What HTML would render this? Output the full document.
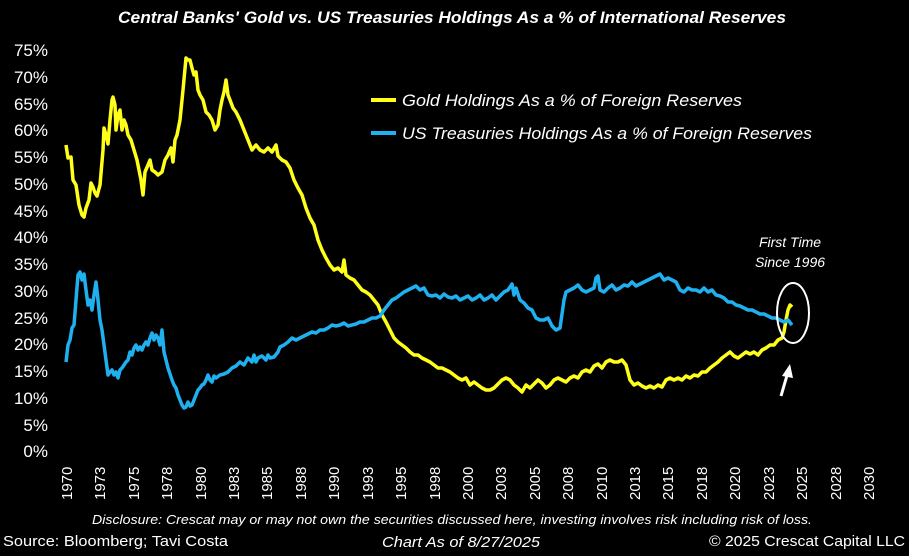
<!DOCTYPE html>
<html><head><meta charset="utf-8"><style>body{margin:0;background:#000}svg{display:block}</style></head><body>
<svg width="909" height="556" viewBox="0 0 909 556" xmlns="http://www.w3.org/2000/svg" font-family="Liberation Sans, sans-serif">
<rect width="909" height="556" fill="#000"/>
<text x="452" y="23" fill="#fff" font-size="17" font-weight="bold" font-style="italic" text-anchor="middle" textLength="668" lengthAdjust="spacingAndGlyphs">Central Banks' Gold vs. US Treasuries Holdings As a % of International Reserves</text>
<g fill="#fff" font-size="17" text-anchor="end">
<text x="48" y="56">75%</text><text x="48" y="83">70%</text><text x="48" y="110">65%</text><text x="48" y="136">60%</text><text x="48" y="163">55%</text><text x="48" y="190">50%</text><text x="48" y="217">45%</text><text x="48" y="243">40%</text><text x="48" y="270">35%</text><text x="48" y="297">30%</text><text x="48" y="324">25%</text><text x="48" y="350">20%</text><text x="48" y="377">15%</text><text x="48" y="404">10%</text><text x="48" y="431">5%</text><text x="48" y="457">0%</text>
</g>
<g fill="#fff" font-size="15">
<text transform="translate(72,500) rotate(-90)">1970</text><text transform="translate(105,500) rotate(-90)">1973</text><text transform="translate(139,500) rotate(-90)">1975</text><text transform="translate(172,500) rotate(-90)">1978</text><text transform="translate(206,500) rotate(-90)">1980</text><text transform="translate(239,500) rotate(-90)">1983</text><text transform="translate(272,500) rotate(-90)">1985</text><text transform="translate(306,500) rotate(-90)">1988</text><text transform="translate(339,500) rotate(-90)">1990</text><text transform="translate(373,500) rotate(-90)">1993</text><text transform="translate(406,500) rotate(-90)">1995</text><text transform="translate(440,500) rotate(-90)">1998</text><text transform="translate(473,500) rotate(-90)">2000</text><text transform="translate(506,500) rotate(-90)">2003</text><text transform="translate(540,500) rotate(-90)">2005</text><text transform="translate(573,500) rotate(-90)">2008</text><text transform="translate(607,500) rotate(-90)">2010</text><text transform="translate(640,500) rotate(-90)">2013</text><text transform="translate(673,500) rotate(-90)">2015</text><text transform="translate(707,500) rotate(-90)">2018</text><text transform="translate(740,500) rotate(-90)">2020</text><text transform="translate(774,500) rotate(-90)">2023</text><text transform="translate(807,500) rotate(-90)">2025</text><text transform="translate(841,500) rotate(-90)">2028</text><text transform="translate(874,500) rotate(-90)">2030</text>
</g>
<polyline fill="none" stroke="#ffff1a" stroke-width="3.5" stroke-linejoin="round" points="66,145 68,158 71,157 73,180 76,185 79,205 82,215 84,217 86,208 89,200 91,183 93,187 95,193 97,196 100,185 103,150 104,128 106,135 108,144 110,120 112,100 113,97 115,105 116,130 118,115 120,110 122,130 124,120 126,125 128,135 131,140 134,150 137,160 139,170 141,180 143,195 145,172 148,165 150,160 152,170 155,172 158,175 162,172 165,160 168,155 171,148 173,162 175,140 177,135 180,120 183,90 186,58 188,60 190,60 192,68 194,75 196,72 198,90 200,95 203,100 206,112 209,115 212,120 215,130 218,125 220,110 222,100 224,92 226,80 228,95 230,100 233,108 236,112 240,120 244,130 248,140 252,150 256,145 260,150 264,152 268,148 272,152 276,145 278,156 282,160 286,162 290,168 294,180 298,188 302,195 306,208 310,218 314,225 318,240 322,250 326,258 330,265 334,270 338,268 342,272 344,260 346,275 350,278 354,280 358,285 362,290 366,292 370,295 374,300 378,305 382,315 386,322 390,330 394,338 398,342 402,345 406,348 410,352 414,355 418,355 422,358 426,360 430,362 434,365 438,368 442,368 446,370 450,372 454,375 458,378 462,380 466,378 470,385 474,382 478,385 482,388 486,390 490,390 494,388 498,384 502,380 506,378 510,380 514,385 518,388 522,392 526,385 530,388 534,384 538,380 542,383 546,388 550,385 554,380 558,378 562,380 566,382 570,378 574,376 578,378 582,372 586,370 590,372 594,366 598,364 602,368 606,362 610,360 614,362 618,362 622,360 626,365 630,380 634,385 638,383 642,386 646,388 650,386 654,388 658,385 662,387 666,380 670,378 674,380 678,378 682,380 686,376 690,378 694,375 698,376 702,372 706,372 710,368 714,365 718,362 722,358 726,355 730,352 734,356 738,358 742,355 746,352 750,354 754,352 758,355 762,350 766,348 770,345 774,345 778,340 782,338 784,332 786,320 788,310 790,305 792,307"/>
<polyline fill="none" stroke="#1fb0f0" stroke-width="3.5" stroke-linejoin="round" points="66,362 68,345 70,340 72,328 74,325 76,300 78,275 80,272 82,280 84,274 86,290 88,305 90,300 92,310 94,295 96,282 98,300 100,320 102,330 104,345 106,360 108,375 110,372 112,370 114,375 116,372 118,378 120,370 122,368 124,365 126,362 128,360 130,352 132,355 134,348 136,345 138,350 140,347 142,350 144,345 146,342 148,345 150,338 152,333 154,340 156,335 158,338 160,345 162,330 164,352 166,360 168,368 170,374 172,380 174,385 176,388 178,395 180,400 182,405 184,408 186,407 188,402 190,406 192,405 194,400 196,395 198,390 200,388 202,385 204,384 206,380 208,375 210,380 212,382 214,376 216,378 220,375 224,374 228,372 232,368 236,366 240,362 244,365 248,358 252,362 254,355 256,362 258,358 262,356 266,360 268,355 270,358 274,357 278,352 280,347 284,345 288,342 292,338 296,340 300,338 304,336 308,334 312,332 316,333 320,330 324,330 328,328 332,325 336,326 340,325 344,323 348,326 352,325 356,324 360,322 364,322 368,320 372,318 376,318 380,316 384,310 388,305 392,300 396,298 400,295 404,292 408,290 412,288 416,286 420,290 424,288 428,295 432,296 436,295 440,298 444,294 448,297 452,298 456,296 460,300 464,298 468,296 472,300 476,298 480,295 484,300 488,298 492,295 496,300 500,296 504,292 508,290 512,284 514,295 516,288 520,300 524,303 528,308 532,310 536,318 540,320 544,320 548,318 552,326 556,330 560,328 564,300 566,292 570,290 574,288 578,285 582,290 586,292 590,290 594,288 596,278 598,276 600,290 604,292 608,288 612,285 616,290 620,288 624,285 628,286 632,282 636,286 640,284 644,282 648,280 652,278 656,276 660,274 664,280 668,278 672,280 676,282 680,290 684,292 688,288 692,290 696,290 700,292 704,288 708,292 712,290 716,295 720,296 724,298 728,302 732,302 736,305 740,306 744,308 748,310 752,310 756,312 760,314 764,314 768,316 772,318 776,318 780,320 784,322 788,320 792,325"/>
<line x1="371" y1="100" x2="396" y2="100" stroke="#ffff1a" stroke-width="4"/>
<text x="402" y="106" fill="#fff" font-size="16.5" font-style="italic" textLength="340" lengthAdjust="spacingAndGlyphs">Gold Holdings As a % of Foreign Reserves</text>
<line x1="371" y1="133" x2="396" y2="133" stroke="#1fb0f0" stroke-width="4"/>
<text x="402" y="139" fill="#fff" font-size="16.5" font-style="italic" textLength="410" lengthAdjust="spacingAndGlyphs">US Treasuries Holdings As a % of Foreign Reserves</text>
<g fill="#fff" font-size="14" font-style="italic" text-anchor="middle">
<text x="790" y="247">First Time</text><text x="790" y="267">Since 1996</text>
</g>
<ellipse cx="793" cy="313" rx="16" ry="30" fill="none" stroke="#fff" stroke-width="2"/>
<line x1="781" y1="396" x2="788" y2="372" stroke="#fff" stroke-width="3"/>
<polygon points="790,364 782,376 793,378" fill="#fff"/>
<text x="452" y="524" fill="#fff" font-size="13" font-style="italic" text-anchor="middle" textLength="720" lengthAdjust="spacingAndGlyphs">Disclosure: Crescat may or may not own the securities discussed here, investing involves risk including risk of loss.</text>
<text x="3" y="546" fill="#fff" font-size="15" textLength="225" lengthAdjust="spacingAndGlyphs">Source: Bloomberg; Tavi Costa</text>
<text x="461" y="547" fill="#fff" font-size="15" font-style="italic" text-anchor="middle" textLength="158" lengthAdjust="spacingAndGlyphs">Chart As of 8/27/2025</text>
<text x="905" y="546" fill="#fff" font-size="15" text-anchor="end" textLength="196" lengthAdjust="spacingAndGlyphs">© 2025 Crescat Capital LLC</text>
</svg>
</body></html>
